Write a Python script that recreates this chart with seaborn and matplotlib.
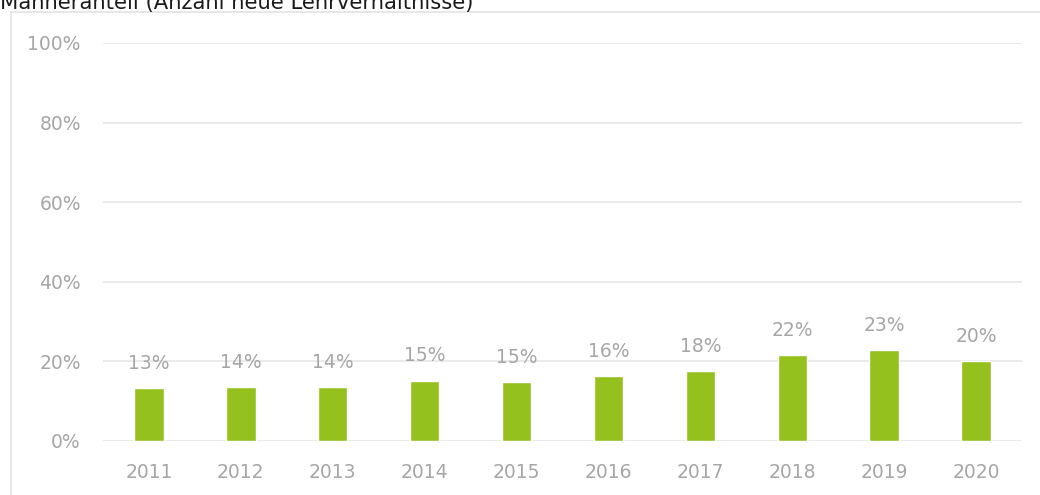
import numpy as np
import pandas as pd
import seaborn as sns
import matplotlib.pyplot as plt
from matplotlib.lines import Line2D

# Data
years = ['2011', '2012', '2013', '2014', '2015', '2016', '2017', '2018', '2019', '2020']
share = [13.2, 13.6, 13.6, 15.2, 14.8, 16.3, 17.6, 21.5, 22.9, 20.0]
labels = ['13%', '14%', '14%', '15%', '15%', '16%', '18%', '22%', '23%', '20%']
yticks = [0, 20, 40, 60, 80, 100]
title = 'Männeranteil (Anzahl neue Lehrverhältnisse)'

df = pd.DataFrame({'Jahr': years, 'Anteil': share})

sns.set_style('white')
plt.rcParams['font.family'] = ['DejaVu Sans']

grey = '#A6A6A6'
green = '#95C11F'

fig = plt.figure(figsize=(10.4, 4.95), dpi=100)
ax = fig.add_axes([103 / 1040, 54 / 495, 919 / 1040, 398 / 495])

sns.barplot(data=df, x='Jahr', y='Anteil', color=green, width=0.32,
            saturation=1, ax=ax, zorder=3)

ax.set_ylim(0, 100)
ax.set_xlim(-0.5, len(years) - 0.5)
ax.set_yticks(yticks)
ax.set_yticklabels([f'{t}%' for t in yticks])
ax.yaxis.grid(True, color='#E6E6E6', linewidth=1.2, zorder=0)
ax.set_axisbelow(True)
ax.set_xlabel('')
ax.set_ylabel('')
for s in ax.spines.values():
    s.set_visible(False)
ax.tick_params(axis='both', length=0, labelsize=13.5, labelcolor=grey)
ax.tick_params(axis='y', pad=16)
ax.tick_params(axis='x', pad=16)

ax.bar_label(ax.containers[0], labels=labels, padding=11,
             fontsize=13.5, color=grey)

# outer chart frame (light grey)
frame = '#E3E3E3'
fig.add_artist(Line2D([10.5 / 1040, 10.5 / 1040], [0, 1 - 12 / 495],
                      transform=fig.transFigure, color=frame, linewidth=1.2))
fig.add_artist(Line2D([10.5 / 1040, 1], [1 - 12 / 495, 1 - 12 / 495],
                      transform=fig.transFigure, color=frame, linewidth=1.2))

# title sits partly above the top edge, as in the reference crop
fig.text(0.0, 1 - 9 / 495, title, fontsize=15.2, color='#1a1a1a',
         ha='left', va='baseline')

fig.savefig('out.png', dpi=100)
